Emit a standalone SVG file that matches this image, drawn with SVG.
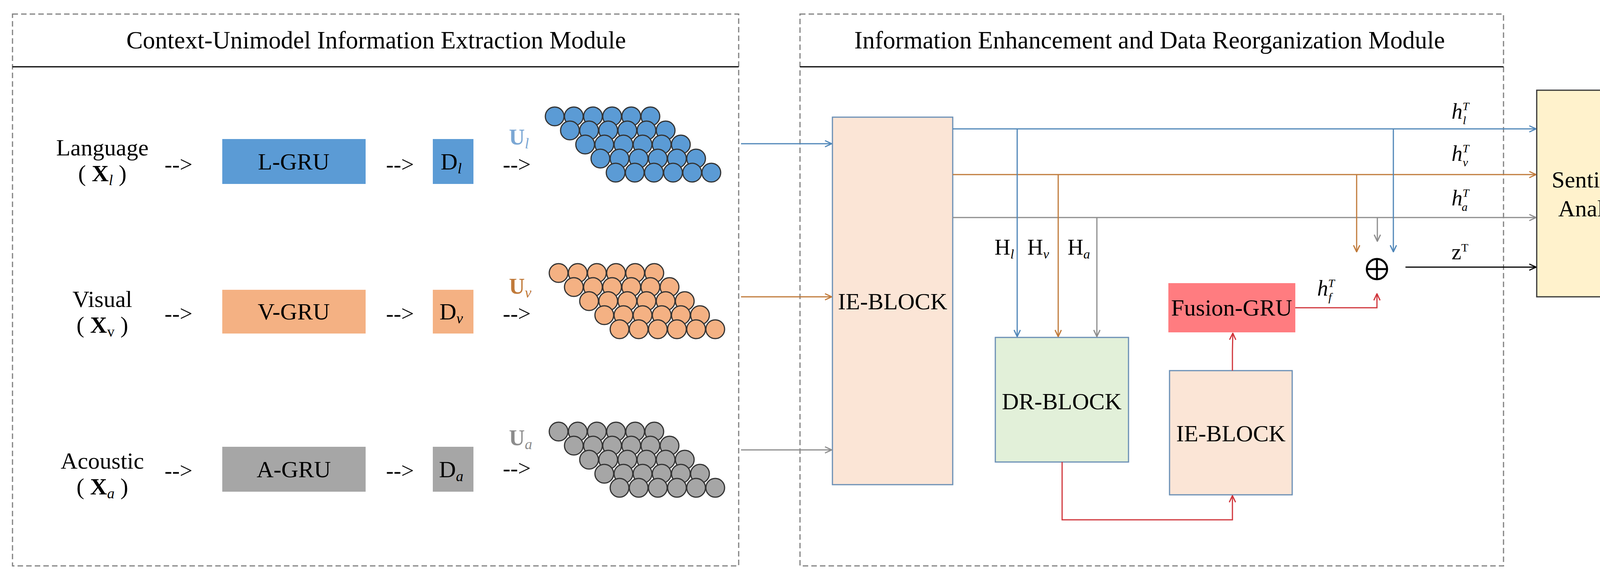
<svg xmlns="http://www.w3.org/2000/svg" width="4292" height="1480" viewBox="0 0 4292 1480">
<style>
text{font-family:"Liberation Serif","Times New Roman",serif;fill:#000}
.t{font-size:60px;text-anchor:middle}
.h{font-size:63px;text-anchor:middle}
.frame{fill:none;stroke:#808080;stroke-width:3;stroke-dasharray:14 8}
.sep{stroke:#000;stroke-width:3}
.bl{stroke:#4f86b8;stroke-width:3;fill:none}
.or{stroke:#c07a3a;stroke-width:3;fill:none}
.gr{stroke:#8c8c8c;stroke-width:3;fill:none}
.rd{stroke:#d0343a;stroke-width:3;fill:none}
.bk{stroke:#000;stroke-width:3;fill:none}
.arr{font-size:58px;text-anchor:middle}
</style>
<defs>
<marker id="ah" viewBox="0 0 20 20" refX="19" refY="10" markerWidth="20" markerHeight="20" markerUnits="userSpaceOnUse" orient="auto"><path d="M2 2 L19 10 L2 18" fill="none" stroke="context-stroke" stroke-width="3"/></marker>
<g id="cl" stroke="#333" stroke-width="3">
<circle cx="0" cy="0" r="24"/><circle cx="49" cy="0" r="24"/><circle cx="98" cy="0" r="24"/><circle cx="147" cy="0" r="24"/><circle cx="196" cy="0" r="24"/><circle cx="245" cy="0" r="24"/>
<circle cx="39" cy="36" r="24"/><circle cx="88" cy="36" r="24"/><circle cx="137" cy="36" r="24"/><circle cx="186" cy="36" r="24"/><circle cx="235" cy="36" r="24"/><circle cx="284" cy="36" r="24"/>
<circle cx="78" cy="72" r="24"/><circle cx="127" cy="72" r="24"/><circle cx="176" cy="72" r="24"/><circle cx="225" cy="72" r="24"/><circle cx="274" cy="72" r="24"/><circle cx="323" cy="72" r="24"/>
<circle cx="117" cy="108" r="24"/><circle cx="166" cy="108" r="24"/><circle cx="215" cy="108" r="24"/><circle cx="264" cy="108" r="24"/><circle cx="313" cy="108" r="24"/><circle cx="362" cy="108" r="24"/>
<circle cx="156" cy="144" r="24"/><circle cx="205" cy="144" r="24"/><circle cx="254" cy="144" r="24"/><circle cx="303" cy="144" r="24"/><circle cx="352" cy="144" r="24"/><circle cx="401" cy="144" r="24"/>
</g>
</defs>

<g id="frames">
<rect class="frame" x="32" y="36" width="1859" height="1413"/>
<line class="sep" x1="32" y1="171" x2="1891" y2="171"/>
<text class="h" x="963" y="124">Context-Unimodel Information Extraction Module</text>
<rect class="frame" x="2048" y="36" width="1801" height="1413"/>
<line class="sep" x1="2048" y1="171" x2="3849" y2="171"/>
<text class="h" x="2943" y="124">Information Enhancement and Data Reorganization Module</text>
</g>

<g id="lang">
<text class="t" x="262" y="398" font-size="64">Language</text>
<text class="t" x="262" y="464">( <tspan font-weight="bold">X</tspan><tspan font-style="italic" font-size="38" dy="10">l</tspan><tspan dy="-10"> )</tspan></text>
<text class="arr" x="457" y="440">--&gt;</text>
<g id="lgru"><rect x="569" y="356" width="367" height="115" fill="#5b9bd5"/><text class="t" x="752" y="434">L-GRU</text></g>
<text class="arr" x="1024" y="440">--&gt;</text>
<g id="dl"><rect x="1108" y="356" width="104" height="115" fill="#5b9bd5"/><text class="t" x="1155" y="434">D<tspan font-style="italic" font-size="38" dy="10">l</tspan></text></g>
<text class="arr" x="1323" y="440">--&gt;</text>
<text x="1303" y="370" font-size="56" font-weight="bold" style="fill:#7ba7d4">U<tspan font-style="italic" font-weight="normal" font-size="38" dy="10">l</tspan></text>
<use href="#cl" x="1420" y="298" fill="#5b9bd5"/>
</g>

<g id="vis">
<text class="t" x="262" y="786" font-size="64">Visual</text>
<text class="t" x="262" y="852">( <tspan font-weight="bold">X</tspan><tspan font-size="38" dy="10">v</tspan><tspan dy="-10"> )</tspan></text>
<text class="arr" x="457" y="822">--&gt;</text>
<g id="vgru"><rect x="569" y="742" width="367" height="112" fill="#f4b183"/><text class="t" x="752" y="818">V-GRU</text></g>
<text class="arr" x="1024" y="822">--&gt;</text>
<g id="dv"><rect x="1108" y="742" width="104" height="112" fill="#f4b183"/><text class="t" x="1155" y="818">D<tspan font-style="italic" font-size="38" dy="10">v</tspan></text></g>
<text class="arr" x="1323" y="822">--&gt;</text>
<text x="1303" y="752" font-size="56" font-weight="bold" style="fill:#c07a3a">U<tspan font-style="italic" font-weight="normal" font-size="38" dy="10">v</tspan></text>
<use href="#cl" x="1430" y="699" fill="#f4b183"/>
</g>

<g id="aco">
<text class="t" x="262" y="1200" font-size="64">Acoustic</text>
<text class="t" x="262" y="1266">( <tspan font-weight="bold">X</tspan><tspan font-style="italic" font-size="38" dy="10">a</tspan><tspan dy="-10"> )</tspan></text>
<text class="arr" x="457" y="1224">--&gt;</text>
<g id="agru"><rect x="569" y="1144" width="367" height="115" fill="#a6a6a6"/><text class="t" x="752" y="1222">A-GRU</text></g>
<text class="arr" x="1024" y="1224">--&gt;</text>
<g id="da"><rect x="1108" y="1144" width="104" height="115" fill="#a6a6a6"/><text class="t" x="1155" y="1222">D<tspan font-style="italic" font-size="38" dy="10">a</tspan></text></g>
<text class="arr" x="1323" y="1218">--&gt;</text>
<text x="1303" y="1140" font-size="56" font-weight="bold" style="fill:#8c8c8c">U<tspan font-style="italic" font-weight="normal" font-size="38" dy="10">a</tspan></text>
<use href="#cl" x="1430" y="1105" fill="#a6a6a6"/>
</g>

<g id="ie1"><rect x="2131" y="300" width="308" height="941" fill="#fbe5d6" stroke="#6a8fb5" stroke-width="3"/><text class="t" x="2285" y="792">IE-BLOCK</text></g>
<g id="dr"><rect x="2548" y="864" width="341" height="319" fill="#e2f0d9" stroke="#6a8fb5" stroke-width="3"/><text class="t" x="2718" y="1048">DR-BLOCK</text></g>
<g id="ie2"><rect x="2994" y="949" width="314" height="318" fill="#fbe5d6" stroke="#6a8fb5" stroke-width="3"/><text class="t" x="3151" y="1130">IE-BLOCK</text></g>
<g id="fusion"><rect x="2991" y="725" width="325" height="126" fill="#ff7c80"/><text class="t" x="3153" y="808">Fusion-GRU</text></g>
<g id="senti"><rect x="3934" y="231" width="321" height="529" fill="#fff2cc" stroke="#333" stroke-width="3"/><text class="t" x="4094" y="480" font-size="64">Sentiment</text><text class="t" x="4094" y="554" font-size="64">Analysis</text></g>
<g id="plus"><circle cx="3525" cy="689" r="26" fill="none" stroke="#000" stroke-width="5"/><line x1="3499" y1="689" x2="3551" y2="689" stroke="#000" stroke-width="5"/><line x1="3525" y1="663" x2="3525" y2="715" stroke="#000" stroke-width="5"/></g>

<g id="connectors">
<line class="bl" x1="1897" y1="368" x2="2129" y2="368" marker-end="url(#ah)"/>
<line class="or" x1="1897" y1="760" x2="2129" y2="760" marker-end="url(#ah)"/>
<line class="gr" x1="1897" y1="1152" x2="2129" y2="1152" marker-end="url(#ah)"/>
<line class="bl" x1="2439" y1="330" x2="3932" y2="330" marker-end="url(#ah)"/>
<line class="or" x1="2439" y1="447" x2="3932" y2="447" marker-end="url(#ah)"/>
<line class="gr" x1="2439" y1="557" x2="3932" y2="557" marker-end="url(#ah)"/>
<line class="bl" x1="2604" y1="330" x2="2604" y2="862" marker-end="url(#ah)"/>
<line class="or" x1="2709" y1="447" x2="2709" y2="862" marker-end="url(#ah)"/>
<line class="gr" x1="2808" y1="557" x2="2808" y2="862" marker-end="url(#ah)"/>
<line class="or" x1="3473" y1="447" x2="3473" y2="645" marker-end="url(#ah)"/>
<line class="gr" x1="3526" y1="557" x2="3526" y2="618" marker-end="url(#ah)"/>
<line class="bl" x1="3567" y1="330" x2="3567" y2="645" marker-end="url(#ah)"/>
<line class="bk" x1="3598" y1="684" x2="3932" y2="684" marker-end="url(#ah)"/>
<polyline class="rd" points="2719,1183 2719,1331 3155,1331 3155,1269" marker-end="url(#ah)"/>
<polyline class="rd" points="3155,949 3155,900 3156,853" marker-end="url(#ah)"/>
<polyline class="rd" points="3316,788 3525,788 3525,752" marker-end="url(#ah)"/>
</g>

<g id="labels">
<text x="2546" y="652" font-size="56">H<tspan font-style="italic" font-size="34" dy="10">l</tspan></text>
<text x="2630" y="652" font-size="56">H<tspan font-style="italic" font-size="34" dy="10">v</tspan></text>
<text x="2733" y="652" font-size="56">H<tspan font-style="italic" font-size="34" dy="10">a</tspan></text>
<text x="3716" y="304" font-size="56" font-style="italic">h<tspan font-size="30" dy="-22">T</tspan><tspan font-size="30" dx="-16" dy="36">l</tspan></text>
<text x="3716" y="412" font-size="56" font-style="italic">h<tspan font-size="30" dy="-22">T</tspan><tspan font-size="30" dx="-16" dy="36">v</tspan></text>
<text x="3716" y="526" font-size="56" font-style="italic">h<tspan font-size="30" dy="-22">T</tspan><tspan font-size="30" dx="-16" dy="36">a</tspan></text>
<text x="3372" y="757" font-size="56" font-style="italic">h<tspan font-size="30" dy="-22">T</tspan><tspan font-size="30" dx="-16" dy="36">f</tspan></text>
<text x="3716" y="664" font-size="56">z<tspan font-size="30" dy="-20">T</tspan></text>
</g>
</svg>
